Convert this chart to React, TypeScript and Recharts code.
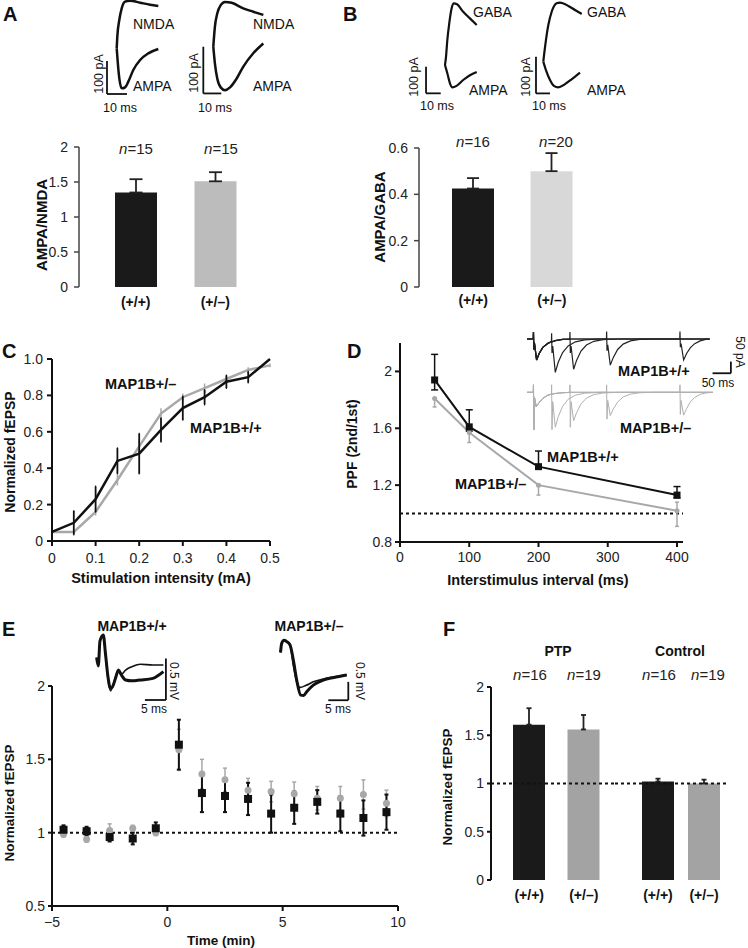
import React from "react";
import {
  BarChart,
  Bar,
  Cell,
  LineChart,
  Line,
  ScatterChart,
  Scatter,
  XAxis,
  YAxis,
  ErrorBar,
  ReferenceLine,
} from "recharts";

const FONT = '"Liberation Sans", Arial, Helvetica, sans-serif';

type Pt = [number, number];

// ---------- bar panels (A, B, F) ----------
const genotypes = ["(+/+)", "(+/–)"];

const ampaNmdaMean = [1.35, 1.51];
const ampaNmdaSem = [0.19, 0.13];

const ampaGabaMean = [0.425, 0.5];
const ampaGabaSem = [0.045, 0.078];

const ptpMean = [1.61, 1.56];
const ptpSem = [0.17, 0.15];
const controlMean = [1.02, 1.0];
const controlSem = [0.03, 0.04];

// ---------- C: input/output ----------
const stimIntensity = [0, 0.05, 0.1, 0.15, 0.2, 0.25, 0.3, 0.35, 0.4, 0.45, 0.5];
const stimTicks = [0, 0.1, 0.2, 0.3, 0.4, 0.5];
const wtFepsp = [0.05, 0.1, 0.23, 0.44, 0.48, 0.61, 0.73, 0.79, 0.875, 0.9, 1.0];
const wtFepspErr = [0.01, 0.065, 0.07, 0.07, 0.11, 0.065, 0.065, 0.04, 0.035, 0.03, 0];
const hetFepsp = [0.05, 0.05, 0.16, 0.335, 0.52, 0.7, 0.79, 0.84, 0.89, 0.94, 0.965];
const hetFepspErr = [0.01, 0.01, 0.02, 0.03, 0.04, 0.03, 0.02, 0.025, 0.02, 0.015, 0.01];

// ---------- D: paired-pulse ----------
const isiMs = [50, 100, 200, 400];
const wtPpf = [1.94, 1.61, 1.33, 1.13];
const wtPpfErr: Pt[] = [[0.07, 0.18], [0.03, 0.12], [0.0, 0.11], [0.02, 0.06]];
const hetPpf = [1.81, 1.57, 1.2, 1.02];
const hetPpfErr: Pt[] = [[0.06, 0.0], [0.07, 0.0], [0.07, 0.0], [0.11, 0.06]];

// ---------- E: PTP time course ----------
const timeMin = [-4.5, -3.5, -2.5, -1.5, -0.5, 0.5, 1.5, 2.5, 3.5, 4.5, 5.5, 6.5, 7.5, 8.5, 9.5];
const wtPtp = [1.02, 1.01, 0.97, 0.96, 1.03, 1.6, 1.27, 1.25, 1.23, 1.13, 1.17, 1.21, 1.13, 1.1, 1.14];
const wtPtpErr = [0.03, 0.03, 0.03, 0.04, 0.04, 0.17, 0.13, 0.11, 0.11, 0.13, 0.11, 0.08, 0.12, 0.12, 0.12];
const hetPtp = [0.99, 0.955, 1.015, 1.03, 1.0, 1.565, 1.4, 1.36, 1.29, 1.28, 1.265, 1.235, 1.235, 1.26, 1.2];
const hetPtpErr = [0.02, 0.02, 0.045, 0.02, 0.02, 0.14, 0.1, 0.08, 0.08, 0.07, 0.08, 0.08, 0.08, 0.1, 0.09];

// ---------- example traces (ms, pA or mV) ----------
const nmdaTraceWt: Pt[] = [[0, 0], [0.3, 35], [1.3, 85], [2.5, 120], [4.2, 140], [6.7, 143], [11.7, 137], [16.7, 131], [20.8, 127]];
const ampaTraceWt: Pt[] = [[0, 0], [0.5, -40], [1.3, -90], [2.5, -120], [4.2, -117], [5.8, -100], [8.3, -65], [11.7, -35], [15.8, -15], [20.8, -2]];
const nmdaTraceHet: Pt[] = [[0, 0], [0.9, 43], [2.2, 71], [4.1, 89], [6.5, 96], [10.2, 94], [16.6, 82], [22.2, 75], [27.8, 68]];
const ampaTraceHet: Pt[] = [[0, 0], [0.9, -36], [2.2, -68], [4.1, -87], [6.5, -93], [9.3, -87], [13, -68], [16.6, -43], [22.2, -14], [27.8, 7]];

const gabaTraceWt: Pt[] = [[0, 0], [0.7, 31], [1.6, 94], [2.9, 156], [4.5, 212], [6.1, 231], [7.9, 229], [12.4, 200], [17, 175], [21.6, 150]];
const ampaGTraceWt: Pt[] = [[0, 0], [1.6, -31], [3.4, -69], [5, -84], [7.9, -78], [12.4, -56], [17, -38], [21.6, -26]];
const gabaTraceHet: Pt[] = [[0, 0], [0.7, 23], [1.9, 59], [3.6, 100], [6, 136], [9.5, 159], [11.9, 161], [17.9, 152], [22.6, 141], [27.4, 130]];
const ampaGTraceHet: Pt[] = [[0, 0], [1.9, -23], [4.8, -50], [7.6, -66], [10.7, -70], [15.5, -61], [20.2, -48], [26.2, -30]];

const wtSweep50: Pt[] = [[-17, 0], [0, 0], [0.5, 30], [1.5, -45], [3, -15], [9, -90], [16, -62], [26, -36], [40, -18], [49.5, -10], [50, 25], [51, -60], [53, -30], [60, -143], [68, -100], [80, -58], [95, -30], [115, -12], [140, -4], [180, 0], [481, 0]];
const wtSweep100: Pt[] = [[-17, 0], [0, 0], [0.5, 30], [1.5, -45], [3, -15], [9, -90], [16, -62], [26, -36], [40, -18], [60, -7], [80, -2], [99.5, -1], [100, 30], [101, -60], [103, -30], [110, -130], [118, -92], [130, -52], [145, -26], [165, -10], [190, -3], [230, 0], [481, 0]];
const wtSweep200: Pt[] = [[-17, 0], [0, 0], [0.5, 30], [1.5, -45], [3, -15], [9, -90], [16, -62], [26, -36], [40, -18], [60, -7], [80, -2], [100, 0], [199.5, 0], [200, 32], [201, -50], [203, -25], [210, -112], [218, -80], [230, -45], [245, -22], [265, -8], [290, -2], [330, 0], [481, 0]];
const wtSweep400: Pt[] = [[-17, 0], [0, 0], [0.5, 30], [1.5, -45], [3, -15], [9, -90], [16, -62], [26, -36], [40, -18], [60, -7], [80, -2], [100, 0], [399.5, 0], [400, 32], [401, -35], [403, -20], [410, -90], [418, -62], [428, -38], [440, -20], [455, -8], [470, -2], [481, 0]];

const hetSweep50: Pt[] = [[-17, 0], [0, 0], [0.5, 32], [1.5, -160], [3, -20], [8, -62], [15, -46], [25, -27], [40, -12], [49.5, -6], [50, 32], [51, -160], [53, -40], [60, -150], [68, -105], [80, -60], [95, -30], [115, -12], [140, -4], [180, 0], [490, 0]];
const hetSweep100: Pt[] = [[-17, 0], [0, 0], [0.5, 32], [1.5, -160], [3, -20], [8, -62], [15, -46], [25, -27], [40, -12], [60, -5], [80, -2], [99.5, -1], [100, 32], [101, -150], [103, -40], [110, -122], [118, -88], [130, -50], [145, -25], [165, -10], [190, -3], [230, 0], [490, 0]];
const hetSweep200: Pt[] = [[-17, 0], [0, 0], [0.5, 32], [1.5, -160], [3, -20], [8, -62], [15, -46], [25, -27], [40, -12], [60, -5], [80, -2], [100, 0], [199.5, 0], [200, 32], [201, -115], [203, -35], [210, -100], [218, -72], [230, -42], [245, -20], [265, -8], [290, -2], [330, 0], [490, 0]];
const hetSweep400: Pt[] = [[-17, 0], [0, 0], [0.5, 32], [1.5, -160], [3, -20], [8, -62], [15, -46], [25, -27], [40, -12], [60, -5], [80, -2], [100, 0], [399.5, 0], [400, 32], [401, -95], [403, -35], [410, -98], [418, -70], [428, -42], [440, -22], [455, -9], [470, -3], [490, 0]];

const fepspWtA: Pt[] = [[-0.4, 0.05], [0, -0.05], [0.4, 0.25], [1.2, 0.32], [1.7, 0.1], [2.3, -0.2], [2.9, -0.35], [3.4, -0.3], [4.1, -0.18], [4.8, -0.1], [5.5, -0.15], [6.5, -0.1], [8, -0.06], [10, -0.03], [13, -0.04], [15.5, -0.04]];
const fepspWtB: Pt[] = [[-0.4, 0.05], [0, -0.05], [0.4, 0.25], [1.2, 0.32], [1.7, 0.1], [2.3, -0.18], [2.9, -0.32], [3.4, -0.3], [4.1, -0.2], [4.8, -0.1], [5.5, -0.16], [6.5, -0.22], [8, -0.23], [10, -0.22], [13, -0.2], [15.5, -0.12]];
const fepspHetA: Pt[] = [[-0.3, -0.25], [0, 0], [0.6, 0.08], [1.25, 0.045], [2.1, -0.05], [2.9, -0.45], [3.75, -1.0], [4.75, -1.41], [5.5, -1.42], [6.25, -1.32], [7.9, -1.14], [10.4, -1.0], [13, -0.93], [16.25, -0.86]];
const fepspHetB: Pt[] = [[-0.3, -0.25], [0, 0], [0.6, 0.08], [1.25, 0.045], [2.1, -0.05], [2.9, -0.6], [3.75, -1.05], [4.6, -1.2], [6, -1.15], [7.9, -1.05], [10.4, -0.97], [13, -0.92], [16.25, -0.86]];

// ---------- shared styles ----------
const axisBlack = { stroke: "#111", strokeWidth: 2 };
const axisGrey = { stroke: "#444", strokeWidth: 1.5 };
const tickStyle = { fontSize: 14, fill: "#222", fontFamily: FONT };
const boldTick = { fontSize: 14, fill: "#111", fontFamily: FONT, fontWeight: 700 };
const BLACK = "#1a1a1a";
const GREY_LINE = "#a8a8a8";

type ScaleBar = { vx: number; yTop: number; yBottom: number; hx0: number; hx1: number };
type TraceLine = { pts: Pt[]; color: string; width: number };

function Trace(props: {
  left: number;
  top: number;
  width: number;
  height: number;
  xDomain: [number, number];
  yDomain: [number, number];
  lines: TraceLine[];
  bar?: ScaleBar;
  curve?: "linear" | "monotone";
}) {
  const { bar } = props;
  return (
    <div style={{ position: "absolute", left: props.left, top: props.top }}>
      <LineChart width={props.width} height={props.height} margin={{ top: 0, right: 0, bottom: 0, left: 0 }}>
        <XAxis type="number" dataKey="t" domain={props.xDomain} hide />
        <YAxis type="number" domain={props.yDomain} hide />
        {props.lines.map((l, i) => (
          <Line
            key={i}
            data={l.pts.map(([t, v]) => ({ t, v }))}
            dataKey="v"
            type={props.curve ?? "monotone"}
            stroke={l.color}
            strokeWidth={l.width}
            dot={false}
            isAnimationActive={false}
          />
        ))}
        {bar && (
          <ReferenceLine
            segment={[{ x: bar.vx, y: bar.yTop }, { x: bar.vx, y: bar.yBottom }]}
            stroke="#111"
            strokeWidth={1.8}
          />
        )}
        {bar && (
          <ReferenceLine
            segment={[{ x: bar.hx0, y: bar.yBottom }, { x: bar.hx1, y: bar.yBottom }]}
            stroke="#111"
            strokeWidth={1.8}
          />
        )}
      </LineChart>
    </div>
  );
}

function BarPanel(props: {
  left: number;
  top: number;
  width: number;
  height: number;
  margin: { top: number; right: number; bottom: number; left: number };
  padding: { left: number; right: number };
  mean: number[];
  sem: number[];
  fills: string[];
  domain: [number, number];
  ticks: number[];
  showY: boolean;
  axis: { stroke: string; strokeWidth: number };
  barSize: number;
  capWidth: number;
  tickSize: number;
  tickMargin: number;
  labelMargin: number;
  dashedOne?: boolean;
}) {
  const rows = genotypes.map((g, i) => ({ name: g, value: props.mean[i], err: [0, props.sem[i]] }));
  return (
    <div style={{ position: "absolute", left: props.left, top: props.top }}>
      <BarChart width={props.width} height={props.height} data={rows} margin={props.margin}>
        <XAxis
          dataKey="name"
          axisLine={false}
          tickLine={false}
          tickSize={0}
          tickMargin={props.labelMargin}
          height={25}
          padding={props.padding}
          tick={boldTick}
          interval={0}
        />
        <YAxis
          hide={!props.showY}
          width={40}
          type="number"
          domain={props.domain}
          ticks={props.ticks}
          tickFormatter={(v: number) => String(v)}
          axisLine={props.axis}
          tickLine={props.axis}
          tickSize={props.tickSize}
          tickMargin={props.tickMargin}
          tick={tickStyle}
          interval={0}
        />
        <Bar dataKey="value" barSize={props.barSize} isAnimationActive={false}>
          {rows.map((r, i) => (
            <Cell key={r.name} fill={props.fills[i]} />
          ))}
          <ErrorBar dataKey="err" direction="y" width={props.capWidth} stroke="#222" strokeWidth={1.8} />
        </Bar>
        {props.dashedOne && <ReferenceLine y={1} stroke="#111" strokeWidth={2} strokeDasharray="3 3" />}
      </BarChart>
    </div>
  );
}

function StimResponse() {
  const rows = stimIntensity.map((s, i) => ({
    s,
    wt: wtFepsp[i],
    wtErr: wtFepspErr[i],
    het: hetFepsp[i],
    hetErr: hetFepspErr[i],
  }));
  return (
    <div style={{ position: "absolute", left: 0, top: 345 }}>
      <LineChart width={290} height={250} data={rows} margin={{ top: 14, right: 20, bottom: 14, left: 12 }}>
        <XAxis
          dataKey="s"
          type="number"
          domain={[0, 0.5]}
          ticks={stimTicks}
          tickFormatter={(v: number) => String(v)}
          height={40}
          tickSize={5}
          tickMargin={7}
          axisLine={axisBlack}
          tickLine={axisBlack}
          tick={tickStyle}
          interval={0}
        />
        <YAxis
          type="number"
          domain={[0, 1]}
          ticks={[0, 0.2, 0.4, 0.6, 0.8, 1]}
          tickFormatter={(v: number) => (v === 0 ? "0" : v.toFixed(1))}
          width={40}
          tickSize={5}
          tickMargin={4}
          axisLine={axisBlack}
          tickLine={axisBlack}
          tick={tickStyle}
          interval={0}
        />
        <Line dataKey="het" stroke={GREY_LINE} strokeWidth={2.5} dot={false} isAnimationActive={false}>
          <ErrorBar dataKey="hetErr" direction="y" width={0} stroke={GREY_LINE} strokeWidth={1.5} />
        </Line>
        <Line dataKey="wt" stroke="#111" strokeWidth={2.5} dot={false} isAnimationActive={false}>
          <ErrorBar dataKey="wtErr" direction="y" width={0.5} stroke="#111" strokeWidth={1.8} />
        </Line>
      </LineChart>
    </div>
  );
}

function PairedPulse() {
  const rows = isiMs.map((isi, i) => ({
    isi,
    wt: wtPpf[i],
    wtErr: wtPpfErr[i],
    het: hetPpf[i],
    hetErr: hetPpfErr[i],
  }));
  return (
    <div style={{ position: "absolute", left: 340, top: 330 }}>
      <LineChart width={400} height={260} data={rows} margin={{ top: 13, right: 57, bottom: 18, left: 20 }}>
        <XAxis
          dataKey="isi"
          type="number"
          domain={[0, 400]}
          ticks={[0, 100, 200, 300, 400]}
          padding={{ left: 0, right: 6 }}
          height={30}
          tickSize={5}
          tickMargin={5}
          axisLine={axisBlack}
          tickLine={axisBlack}
          tick={tickStyle}
          interval={0}
        />
        <YAxis
          type="number"
          domain={[0.8, 2.2]}
          ticks={[0.8, 1.2, 1.6, 2]}
          tickFormatter={(v: number) => (v === 2 ? "2" : v.toFixed(1))}
          width={40}
          tickSize={5}
          tickMargin={3}
          axisLine={axisBlack}
          tickLine={axisBlack}
          tick={tickStyle}
          interval={0}
        />
        <ReferenceLine y={1} stroke="#111" strokeWidth={2} strokeDasharray="3 3" />
        <Line
          dataKey="het"
          stroke={GREY_LINE}
          strokeWidth={2}
          isAnimationActive={false}
          dot={(p: any) => <circle key={p.index} cx={p.cx} cy={p.cy} r={2.5} fill={GREY_LINE} />}
        >
          <ErrorBar dataKey="hetErr" direction="y" width={2} stroke={GREY_LINE} strokeWidth={1.5} />
        </Line>
        <Line
          dataKey="wt"
          stroke="#111"
          strokeWidth={2}
          isAnimationActive={false}
          dot={(p: any) => <rect key={p.index} x={p.cx - 3.5} y={p.cy - 3.5} width={7} height={7} fill="#111" />}
        >
          <ErrorBar dataKey="wtErr" direction="y" width={3.5} stroke="#111" strokeWidth={1.5} />
        </Line>
      </LineChart>
    </div>
  );
}

function PtpTimeCourse() {
  const het = timeMin.map((t, i) => ({ t, v: hetPtp[i], err: hetPtpErr[i] }));
  const wt = timeMin.map((t, i) => ({ t, v: wtPtp[i], err: wtPtpErr[i] }));
  return (
    <div style={{ position: "absolute", left: 0, top: 670 }}>
      <ScatterChart width={420} height={278} margin={{ top: 16, right: 22, bottom: 12, left: 12 }}>
        <XAxis
          dataKey="t"
          type="number"
          domain={[-5, 10]}
          ticks={[-5, 0, 5, 10]}
          tickFormatter={(v: number) => (v < 0 ? `−${-v}` : String(v))}
          height={30}
          tickSize={5}
          tickMargin={6}
          axisLine={axisBlack}
          tickLine={axisBlack}
          tick={tickStyle}
          interval={0}
        />
        <YAxis
          dataKey="v"
          type="number"
          domain={[0.5, 2]}
          ticks={[0.5, 1, 1.5, 2]}
          tickFormatter={(v: number) => String(v)}
          width={40}
          tickSize={4}
          tickMargin={3}
          axisLine={axisBlack}
          tickLine={axisBlack}
          tick={tickStyle}
          interval={0}
        />
        <ReferenceLine y={1} stroke="#111" strokeWidth={2} strokeDasharray="3 3" />
        <Scatter
          data={het}
          isAnimationActive={false}
          shape={(p: any) => <circle cx={p.cx} cy={p.cy} r={3.5} fill={GREY_LINE} />}
        >
          <ErrorBar dataKey="err" direction="y" width={2} stroke={GREY_LINE} strokeWidth={1.5} />
        </Scatter>
        <Scatter
          data={wt}
          isAnimationActive={false}
          shape={(p: any) => <rect x={p.cx - 4} y={p.cy - 4} width={8} height={8} fill="#111" />}
        >
          <ErrorBar dataKey="err" direction="y" width={2} stroke="#111" strokeWidth={2} />
        </Scatter>
      </ScatterChart>
    </div>
  );
}

function Txt(props: {
  x: number;
  y: number;
  children: React.ReactNode;
  size?: number;
  bold?: boolean;
  anchor?: "start" | "middle" | "end";
  rotate?: number;
  fill?: string;
}) {
  const { x, y, rotate } = props;
  return (
    <text
      x={x}
      y={y}
      fontSize={props.size ?? 14}
      fontWeight={props.bold ? 700 : 400}
      textAnchor={rotate ? "middle" : props.anchor ?? "start"}
      dominantBaseline={rotate ? "central" : undefined}
      fill={props.fill ?? "#111"}
      fontFamily={FONT}
      transform={rotate ? `rotate(${rotate} ${x} ${y})` : undefined}
    >
      {props.children}
    </text>
  );
}

function NLabel({ x, y, n }: { x: number; y: number; n: number }) {
  return (
    <text x={x} y={y} fontSize={15} textAnchor="middle" fill="#222" fontFamily={FONT}>
      <tspan fontStyle="italic">n</tspan>={n}
    </text>
  );
}

export default function App() {
  return (
    <div
      style={{
        position: "absolute",
        left: 0,
        top: 0,
        width: 748,
        height: 948,
        background: "#fff",
        fontFamily: FONT,
        overflow: "hidden",
      }}
    >
      {/* A: AMPA/NMDA */}
      <Trace
        left={98}
        top={-4}
        width={66}
        height={108}
        xDomain={[-9.35, 23.65]}
        yDomain={[-167, 157]}
        lines={[
          { pts: nmdaTraceWt, color: "#111", width: 2.5 },
          { pts: ampaTraceWt, color: "#111", width: 2.5 },
        ]}
        bar={{ vx: -4.85, yTop: -38, yBottom: -137, hx0: -4.85, hx1: 5.15 }}
      />
      <Trace
        left={198}
        top={-4}
        width={70}
        height={108}
        xDomain={[-8.5, 30.4]}
        yDomain={[-122.6, 108.6]}
        lines={[
          { pts: nmdaTraceHet, color: "#111", width: 2.5 },
          { pts: ampaTraceHet, color: "#111", width: 2.5 },
        ]}
        bar={{ vx: -5.55, yTop: 0, yBottom: -100, hx0: -5.55, hx1: 4.45 }}
      />
      <BarPanel
        left={0}
        top={135}
        width={270}
        height={180}
        margin={{ top: 12, right: 15, bottom: 3, left: 39 }}
        padding={{ left: 17, right: 0 }}
        mean={ampaNmdaMean}
        sem={ampaNmdaSem}
        fills={[BLACK, "#bcbcbc"]}
        domain={[0, 2]}
        ticks={[0, 0.5, 1, 1.5, 2]}
        showY
        axis={axisGrey}
        barSize={42}
        capWidth={6.5}
        tickSize={5}
        tickMargin={6}
        labelMargin={10}
      />

      {/* B: AMPA/GABA */}
      <Trace
        left={420}
        top={-4}
        width={62}
        height={108}
        xDomain={[-17, 25.2]}
        yDomain={[-146, 259]}
        lines={[
          { pts: gabaTraceWt, color: "#111", width: 2.2 },
          { pts: ampaGTraceWt, color: "#111", width: 2.2 },
        ]}
        bar={{ vx: -12.9, yTop: -6, yBottom: -106, hx0: -12.9, hx1: -2.9 }}
      />
      <Trace
        left={528}
        top={-4}
        width={60}
        height={108}
        xDomain={[-10.9, 31.9]}
        yDomain={[-115.3, 179]}
        lines={[
          { pts: gabaTraceHet, color: "#111", width: 2.2 },
          { pts: ampaGTraceHet, color: "#111", width: 2.2 },
        ]}
        bar={{ vx: -5.2, yTop: 13.6, yBottom: -86.4, hx0: -5.2, hx1: 4.8 }}
      />
      <BarPanel
        left={350}
        top={135}
        width={250}
        height={180}
        margin={{ top: 13, right: 9, bottom: 3, left: 29 }}
        padding={{ left: 15, right: 0 }}
        mean={ampaGabaMean}
        sem={ampaGabaSem}
        fills={[BLACK, "#d8d8d8"]}
        domain={[0, 0.6]}
        ticks={[0, 0.2, 0.4, 0.6]}
        showY
        axis={axisGrey}
        barSize={42}
        capWidth={6}
        tickSize={5}
        tickMargin={6}
        labelMargin={8}
      />

      {/* C and D */}
      <StimResponse />
      <PairedPulse />
      <Trace
        left={525}
        top={330}
        width={212}
        height={55}
        xDomain={[-22.6, 555.5]}
        yDomain={[-197.4, 38.6]}
        curve="linear"
        lines={[
          { pts: wtSweep400, color: "#222", width: 1.2 },
          { pts: wtSweep200, color: "#222", width: 1.2 },
          { pts: wtSweep100, color: "#222", width: 1.2 },
          { pts: wtSweep50, color: "#222", width: 1.2 },
        ]}
        bar={{ vx: 538.8, yTop: -97, yBottom: -147, hx0: 488.8, hx1: 538.8 }}
      />
      <Trace
        left={525}
        top={378}
        width={212}
        height={57}
        xDomain={[-22.6, 555.5]}
        yDomain={[-183.2, 61.3]}
        curve="linear"
        lines={[
          { pts: hetSweep400, color: "#b0b0b0", width: 1 },
          { pts: hetSweep200, color: "#b0b0b0", width: 1 },
          { pts: hetSweep100, color: "#b0b0b0", width: 1 },
          { pts: hetSweep50, color: "#b0b0b0", width: 1 },
        ]}
      />

      {/* E */}
      <PtpTimeCourse />
      <Trace
        left={92}
        top={628}
        width={80}
        height={77}
        xDomain={[-1.5, 17.55]}
        yDomain={[-0.52, 0.405]}
        lines={[
          { pts: fepspWtA, color: "#111", width: 1.6 },
          { pts: fepspWtB, color: "#111", width: 3 },
        ]}
        bar={{ vx: 16.1, yTop: 0.04, yBottom: -0.46, hx0: 11.1, hx1: 16.1 }}
      />
      <Trace
        left={275}
        top={628}
        width={80}
        height={77}
        xDomain={[-1.675, 18.325]}
        yDomain={[-1.68, 0.417]}
        lines={[
          { pts: fepspHetB, color: "#111", width: 1.6 },
          { pts: fepspHetA, color: "#111", width: 3 },
        ]}
        bar={{ vx: 16.65, yTop: -1.05, yBottom: -1.55, hx0: 11.65, hx1: 16.65 }}
      />

      {/* F: PTP vs control */}
      <BarPanel
        left={430}
        top={670}
        width={185}
        height={240}
        margin={{ top: 17, right: 0, bottom: 5, left: 21 }}
        padding={{ left: 11, right: 4 }}
        mean={ptpMean}
        sem={ptpSem}
        fills={[BLACK, "#a3a3a3"]}
        domain={[0, 2]}
        ticks={[0, 0.5, 1, 1.5, 2]}
        showY
        axis={axisBlack}
        barSize={32}
        capWidth={2.5}
        tickSize={4}
        tickMargin={3}
        labelMargin={10}
        dashedOne
      />
      <BarPanel
        left={615}
        top={670}
        width={133}
        height={240}
        margin={{ top: 17, right: 21, bottom: 5, left: 0 }}
        padding={{ left: 20, right: 0 }}
        mean={controlMean}
        sem={controlSem}
        fills={[BLACK, "#a3a3a3"]}
        domain={[0, 2]}
        ticks={[0, 0.5, 1, 1.5, 2]}
        showY={false}
        axis={axisBlack}
        barSize={32}
        capWidth={2.5}
        tickSize={4}
        tickMargin={3}
        labelMargin={10}
        dashedOne
      />

      {/* annotations */}
      <svg
        width={748}
        height={948}
        style={{ position: "absolute", left: 0, top: 0, pointerEvents: "none" }}
      >
        <Txt x={3} y={21} size={20} bold>A</Txt>
        <Txt x={343} y={21} size={20} bold>B</Txt>
        <Txt x={2} y={358} size={20} bold>C</Txt>
        <Txt x={347} y={358} size={20} bold>D</Txt>
        <Txt x={2} y={636} size={20} bold>E</Txt>
        <Txt x={443} y={636} size={20} bold>F</Txt>

        {/* A */}
        <Txt x={133} y={29} size={14}>NMDA</Txt>
        <Txt x={133} y={91} size={14}>AMPA</Txt>
        <Txt x={99} y={74} size={12.5} rotate={-90}>100 pA</Txt>
        <Txt x={120} y={112} size={12.5} anchor="middle">10 ms</Txt>
        <Txt x={253} y={29} size={14}>NMDA</Txt>
        <Txt x={253} y={91} size={14}>AMPA</Txt>
        <Txt x={194} y={73} size={12.5} rotate={-90}>100 pA</Txt>
        <Txt x={215} y={112} size={12.5} anchor="middle">10 ms</Txt>
        <NLabel x={136} y={154} n={15} />
        <NLabel x={221} y={154} n={15} />
        <Txt x={41} y={225} size={15} bold rotate={-90}>AMPA/NMDA</Txt>

        {/* B */}
        <Txt x={473} y={17} size={14}>GABA</Txt>
        <Txt x={469} y={95} size={14}>AMPA</Txt>
        <Txt x={414} y={77} size={12.5} rotate={-90}>100 pA</Txt>
        <Txt x={437} y={110} size={12.5} anchor="middle">10 ms</Txt>
        <Txt x={587} y={17} size={14}>GABA</Txt>
        <Txt x={587} y={95} size={14}>AMPA</Txt>
        <Txt x={526} y={77} size={12.5} rotate={-90}>100 pA</Txt>
        <Txt x={549} y={110} size={12.5} anchor="middle">10 ms</Txt>
        <NLabel x={473} y={147} n={16} />
        <NLabel x={556} y={147} n={20} />
        <Txt x={379} y={217} size={15} bold rotate={-90}>AMPA/GABA</Txt>

        {/* C */}
        <Txt x={105} y={389} size={14.5} bold>MAP1B+/–</Txt>
        <Txt x={190} y={433} size={14.5} bold>MAP1B+/+</Txt>
        <Txt x={161} y={583} size={14.5} bold anchor="middle">Stimulation intensity (mA)</Txt>
        <Txt x={10} y={452} size={14} bold rotate={-90}>Normalized fEPSP</Txt>

        {/* D */}
        <Txt x={547} y={462} size={14.5} bold>MAP1B+/+</Txt>
        <Txt x={455} y={489} size={14.5} bold>MAP1B+/–</Txt>
        <Txt x={618} y={376} size={14.5} bold>MAP1B+/+</Txt>
        <Txt x={620} y={433} size={14.5} bold>MAP1B+/–</Txt>
        <Txt x={740} y={352} size={12} rotate={90}>50 pA</Txt>
        <Txt x={718} y={387} size={12} anchor="middle">50 ms</Txt>
        <Txt x={538} y={585} size={14.5} bold anchor="middle">Interstimulus interval (ms)</Txt>
        <Txt x={352} y={444} size={14} bold rotate={-90}>PPF (2nd/1st)</Txt>

        {/* E */}
        <Txt x={132} y={631} size={14} bold anchor="middle">MAP1B+/+</Txt>
        <Txt x={309} y={631} size={14} bold anchor="middle">MAP1B+/–</Txt>
        <Txt x={174} y={681} size={12} rotate={90}>0.5 mV</Txt>
        <Txt x={360} y={681} size={12} rotate={90}>0.5 mV</Txt>
        <Txt x={154} y={713} size={12} anchor="middle">5 ms</Txt>
        <Txt x={338} y={713} size={12} anchor="middle">5 ms</Txt>
        <Txt x={221} y={945} size={13.5} bold anchor="middle">Time (min)</Txt>
        <Txt x={9} y={803} size={13.5} bold rotate={-90}>Normalized fEPSP</Txt>

        {/* F */}
        <Txt x={558} y={656} size={14} bold anchor="middle">PTP</Txt>
        <Txt x={680} y={656} size={14} bold anchor="middle">Control</Txt>
        <NLabel x={530} y={680} n={16} />
        <NLabel x={584} y={680} n={19} />
        <NLabel x={659} y={680} n={16} />
        <NLabel x={708} y={680} n={19} />
        <Txt x={447} y={787} size={13.5} bold rotate={-90}>Normalized fEPSP</Txt>
      </svg>
    </div>
  );
}
